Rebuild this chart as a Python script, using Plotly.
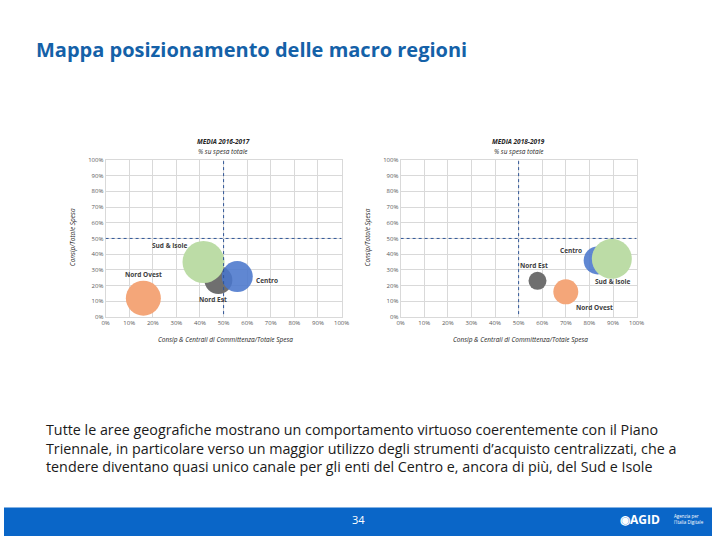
"""Mappa posizionamento delle macro regioni - due grafici a bolle"""

import plotly.graph_objects as go

# ── dati (quota Consip & Centrali / quota Consip, dimensione bolla) ──

REGIONI_1617 = ["Nord Ovest", "Nord Est", "Sud & Isole", "Centro"]
X_1617 = [0.16, 0.478, 0.415, 0.558]
Y_1617 = [0.12, 0.235, 0.35, 0.257]
SIZE_1617 = [35, 28, 42, 31]

REGIONI_1819 = ["Nord Est", "Nord Ovest", "Centro", "Sud & Isole"]
X_1819 = [0.58, 0.70, 0.835, 0.895]
Y_1819 = [0.23, 0.16, 0.36, 0.37]
SIZE_1819 = [18, 25, 28, 40]

TICKS = [0, 0.1, 0.2, 0.3, 0.4, 0.5, 0.6, 0.7, 0.8, 0.9, 1.0]

COLORI = {
    "Nord Ovest": "#F4A679",
    "Nord Est": "#6F6F6F",
    "Centro": "#4A76CC",
    "Sud & Isole": "#BCDCA6",
}

FONT = "Open Sans, Noto Sans, sans-serif"
BLU = "#0A66C8"

fig = go.Figure()


def add_panel(regioni, xs, ys, sizes, xa, ya):
    fig.add_trace(go.Scatter(
        x=xs, y=ys, mode="markers",
        marker=dict(
            size=sizes, sizemode="diameter",
            color=[COLORI[r] for r in regioni],
            opacity=[0.88 if r == "Centro" else 1 for r in regioni],
            line=dict(width=0),
        ),
        text=regioni,
        hovertemplate="<b>%{text}</b><br>%{x:.0%} / %{y:.0%}<extra></extra>",
        xaxis=xa, yaxis=ya, cliponaxis=False, showlegend=False,
    ))
    # linee medie 50%
    fig.add_shape(type="line", xref=xa, yref=ya, x0=0, x1=1, y0=0.5, y1=0.5,
                  line=dict(color="#2F5597", width=1, dash="dot"))
    fig.add_shape(type="line", xref=xa, yref=ya, x0=0.5, x1=0.5, y0=-0.02, y1=1,
                  line=dict(color="#2F5597", width=1, dash="dot"))


add_panel(REGIONI_1617, X_1617, Y_1617, SIZE_1617, "x", "y")
add_panel(REGIONI_1819, X_1819, Y_1819, SIZE_1819, "x2", "y2")

axis_common = dict(
    range=[0, 1], tickvals=TICKS, tickformat=".0%",
    showgrid=True, gridcolor="#D9D9D9", gridwidth=1,
    showline=True, linecolor="#D9D9D9", mirror=True,
    zeroline=False, ticks="", fixedrange=True,
    tickfont=dict(size=6, color="#595959", family=FONT),
)
ydom = [0.4117, 0.7069]
fig.update_layout(
    xaxis=dict(domain=[0.1435, 0.4768], anchor="y", **axis_common),
    yaxis=dict(domain=ydom, anchor="x", **axis_common),
    xaxis2=dict(domain=[0.5602, 0.8935], anchor="y2", **axis_common),
    yaxis2=dict(domain=ydom, anchor="x2", **axis_common),
)

ann = []


def lab(text, xref, yref, x, y, **kw):
    d = dict(text=text, xref=xref, yref=yref, x=x, y=y, showarrow=False,
             xanchor="center", yanchor="middle",
             font=dict(size=6.5, color="#404040", family=FONT))
    d.update(kw)
    ann.append(d)


# etichette bolle
lab("<b>Sud & Isole</b>", "x", "y", 0.275, 0.455)
lab("<b>Nord Ovest</b>", "x", "y", 0.16, 0.27)
lab("<b>Nord Est</b>", "x", "y", 0.455, 0.11)
lab("<b>Centro</b>", "x", "y", 0.685, 0.235)
lab("<b>Centro</b>", "x2", "y2", 0.72, 0.425)
lab("<b>Nord Est</b>", "x2", "y2", 0.565, 0.33)
lab("<b>Sud & Isole</b>", "x2", "y2", 0.90, 0.225)
lab("<b>Nord Ovest</b>", "x2", "y2", 0.82, 0.06)

# titoli grafici e assi
for xc, anno in [(0.31, "MEDIA 2016-2017"), (0.7268, "MEDIA 2018-2019")]:
    ann.append(dict(text="<i><b>" + anno + "</b></i>",
                    xref="paper", yref="paper", x=xc, y=1 - 140 / 540, showarrow=False,
                    xanchor="center", yanchor="middle",
                    font=dict(size=6.5, color="#262626", family=FONT)))
    ann.append(dict(text="<i>% su spesa totale</i>",
                    xref="paper", yref="paper", x=xc, y=1 - 150 / 540, showarrow=False,
                    xanchor="center", yanchor="middle",
                    font=dict(size=6.5, color="#262626", family=FONT)))
    ann.append(dict(text="<i>Consip & Centrali di Committenza/Totale Spesa</i>",
                    xref="paper", yref="paper", x=xc + 0.003, y=1 - 341 / 540, showarrow=False,
                    xanchor="center", yanchor="middle",
                    font=dict(size=6.5, color="#262626", family=FONT)))
for xc in [0.097, 0.514]:
    ann.append(dict(text="<i>Consip/Totale Spesa</i>", textangle=-90,
                    xref="paper", yref="paper", x=xc, y=1 - 237 / 540, showarrow=False,
                    xanchor="center", yanchor="middle",
                    font=dict(size=6.5, color="#262626", family=FONT)))

# titolo slide
ann.append(dict(text="<b>Mappa posizionamento delle macro regioni</b>",
                xref="paper", yref="paper", x=30 / 720, y=1 - 46 / 540,
                xanchor="left", yanchor="middle",
                showarrow=False, font=dict(size=20, color="#1461A8", family=FONT)))

# testo commento
ann.append(dict(
    text=("Tutte le aree geografiche mostrano un comportamento virtuoso coerentemente con il Piano<br>"
          "Triennale, in particolare verso un maggior utilizzo degli strumenti d’acquisto centralizzati, che a<br>"
          "tendere diventano quasi unico canale per gli enti del Centro e, ancora di più, del Sud e Isole"),
    xref="paper", yref="paper", x=41 / 720, y=1 - 420 / 540, xanchor="left", yanchor="top",
    align="left", showarrow=False,
    font=dict(size=14.3, color="#1A1A1A", family=FONT)))

# footer
ann.append(dict(text="34", xref="paper", yref="paper", x=0.5, y=1 - 523 / 540,
                xanchor="center", yanchor="middle",
                showarrow=False, font=dict(size=11, color="white", family=FONT)))
ann.append(dict(text="<b>◉AGID</b>", xref="paper", yref="paper", x=0.898, y=1 - 523 / 540,
                xanchor="center", yanchor="middle",
                showarrow=False, font=dict(size=12, color="white", family=FONT)))
ann.append(dict(text="Agenzia per<br>l'Italia Digitale", xref="paper", yref="paper",
                x=0.944, y=1 - 523 / 540, showarrow=False, align="left",
                xanchor="left", yanchor="middle",
                font=dict(size=4.5, color="white", family=FONT)))

fig.add_shape(type="rect", xref="paper", yref="paper", x0=0, x1=1, y0=0, y1=29 / 540,
              fillcolor=BLU, line=dict(width=0), layer="below")

fig.update_layout(
    annotations=ann,
    width=720, height=540,
    margin=dict(l=0, r=0, t=0, b=0),
    paper_bgcolor="white", plot_bgcolor="white",
    font=dict(family=FONT),
)

fig.write_html(
    "out.html",
    config={"displayModeBar": False},
    post_script="document.body.style.margin='0';document.body.style.overflow='hidden';",
)
